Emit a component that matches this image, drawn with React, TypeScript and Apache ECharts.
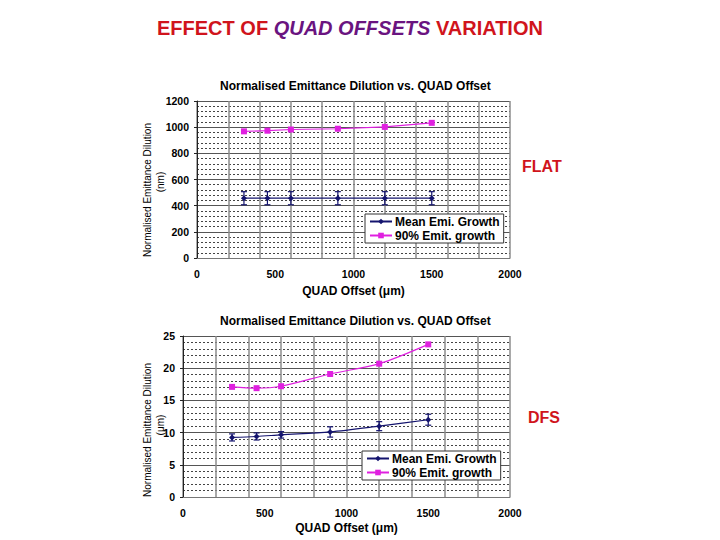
import React, { useEffect, useRef } from "react";
import * as echarts from "echarts";

const offsets = [300, 450, 600, 900, 1200, 1500];
const flatMean = [457, 457, 457, 457, 457, 457];
const flatMeanErr = [50, 50, 50, 50, 50, 50];
const flat90 = [968, 973, 982, 988, 1002, 1033];
const dfsMean = [9.25, 9.4, 9.65, 10.1, 11.0, 12.0];
const dfsMeanErr = [0.55, 0.55, 0.5, 0.8, 0.7, 0.85];
const dfs90 = [17.1, 16.9, 17.2, 19.1, 20.7, 23.7];

const xTicksMax = 2000;
const chartTitle = "Normalised Emittance Dilution vs. QUAD Offset";
const seriesNames = ["Mean Emi. Growth", "90% Emit. growth"];

const FONT = "Liberation Sans, Arial, sans-serif";
const NAVY = "#14146e";
const MAGENTA = "#e020e0";

const pairs = (ys: number[]) => offsets.map((x, i) => [x, ys[i]]);
const errPairs = (ys: number[], es: number[]) =>
  offsets.map((x, i) => [x, ys[i] - es[i], ys[i] + es[i]]);

const errRender = (params: any, api: any) => {
  const x = api.value(0);
  const p1 = api.coord([x, api.value(1)]);
  const p2 = api.coord([x, api.value(2)]);
  const st = { stroke: NAVY, lineWidth: 1.2 };
  return {
    type: "group",
    children: [
      { type: "line", shape: { x1: p1[0], y1: p1[1], x2: p2[0], y2: p2[1] }, style: st },
      { type: "line", shape: { x1: p1[0] - 3, y1: p1[1], x2: p1[0] + 3, y2: p1[1] }, style: st },
      { type: "line", shape: { x1: p2[0] - 3, y1: p2[1], x2: p2[0] + 3, y2: p2[1] }, style: st },
    ],
  };
};

export default function App() {
  const ref = useRef<HTMLDivElement>(null);
  useEffect(() => {
    if (!ref.current) return;
    const chart = echarts.init(ref.current, null, { renderer: "svg" });
    const tickLabel = {
      color: "#000",
      fontFamily: FONT,
      fontWeight: "bold" as const,
      fontSize: 10.5,
      formatter: (v: number) => String(v),
    };
    const mainX = (gi: number, gap: number) => ({
      type: "value",
      gridIndex: gi,
      min: 0,
      max: xTicksMax,
      interval: 500,
      name: "QUAD Offset (\u03bcm)",
      nameLocation: "middle",
      nameGap: gap,
      nameTextStyle: { color: "#000", fontFamily: FONT, fontWeight: "bold", fontSize: 12 },
      axisLine: { show: true, lineStyle: { color: "#777", width: 1 } },
      axisTick: { show: false },
      axisLabel: { ...tickLabel, margin: 10 },
      splitLine: { show: false },
    });
    const gridX = (gi: number) => ({
      type: "value",
      gridIndex: gi,
      min: 0,
      max: xTicksMax,
      interval: 200,
      position: "top",
      axisLine: { show: false },
      axisTick: { show: false },
      axisLabel: { show: false },
      splitLine: { show: true, lineStyle: { color: "#8c8c8c", width: 1.5 } },
    });
    const yAx = (gi: number, max: number, interval: number) => ({
      type: "value",
      gridIndex: gi,
      min: 0,
      max,
      interval,
      axisLine: { show: true, lineStyle: { color: "#222", width: 1 } },
      axisTick: { show: true, length: 3, lineStyle: { color: "#222" } },
      axisLabel: { ...tickLabel, margin: 8 },
      splitLine: { show: true, lineStyle: { color: "#555", width: 1 } },
      minorTick: { show: false, splitNumber: 5 },
      minorSplitLine: { show: true, lineStyle: { color: "#444", width: 1, type: [2, 2] } },
    });
    const legend = (left: number, top: number) => ({
      left,
      top,
      orient: "vertical",
      data: seriesNames,
      backgroundColor: "#fff",
      borderColor: "#333",
      borderWidth: 1,
      padding: [1, 4, 1, 4],
      itemGap: 1,
      itemWidth: 22,
      itemHeight: 7,
      textStyle: {
        color: "#000",
        fontFamily: FONT,
        fontWeight: "bold",
        fontSize: 12,
        lineHeight: 13,
        padding: [0, 0, 0, -2],
      },
    });
    const axisTitle = (x: number, y: number, text: string, size = 10) => ({
      type: "text",
      x,
      y,
      rotation: Math.PI / 2,
      style: {
        text,
        fill: "#000",
        font: `${size}px ${FONT}`,
        align: "center",
        verticalAlign: "middle",
      },
    });
    const subTitle = (top: number) => ({
      text: chartTitle,
      left: 220,
      top,
      padding: 0,
      textStyle: { color: "#000", fontFamily: FONT, fontWeight: "bold", fontSize: 12 },
    });
    chart.setOption({
      animation: false,
      backgroundColor: "#fff",
      title: [
        {
          text: "{r|EFFECT OF }{p|QUAD OFFSETS}{r| VARIATION}",
          left: 157,
          top: 18,
          padding: 0,
          textStyle: {
            rich: {
              r: { color: "#d0141c", fontFamily: FONT, fontWeight: "bold", fontSize: 20 },
              p: { color: "#6a1480", fontFamily: FONT, fontWeight: "bold", fontStyle: "italic", fontSize: 20 },
            },
          },
        },
        subTitle(80),
        subTitle(315),
      ],
      grid: [
        { left: 197, top: 101, width: 313, height: 157 },
        { left: 183, top: 336, width: 327, height: 161 },
      ],
      xAxis: [mainX(0, 27), gridX(0), mainX(1, 25), gridX(1)],
      yAxis: [yAx(0, 1200, 200), yAx(1, 25, 5)],
      legend: [legend(365, 214), legend(362, 451)],
      graphic: [
        axisTitle(147, 190, "Normalised Emittance Dilution"),
        axisTitle(160, 182, "(nm)"),
        axisTitle(147, 430, "Normalised Emittance Dilution"),
        axisTitle(160, 425, "(\u03bcm)"),
        {
          type: "text",
          x: 522,
          y: 166,
          style: { text: "FLAT", fill: "#d0141c", font: `bold 16px ${FONT}`, verticalAlign: "middle" },
        },
        {
          type: "text",
          x: 528,
          y: 417,
          style: { text: "DFS", fill: "#d0141c", font: `bold 16px ${FONT}`, verticalAlign: "middle" },
        },
      ],
      series: [
        {
          name: seriesNames[0],
          type: "line",
          xAxisIndex: 0,
          yAxisIndex: 0,
          data: pairs(flatMean),
          symbol: "diamond",
          symbolSize: 6,
          itemStyle: { color: NAVY },
          lineStyle: { color: NAVY, width: 1.2 },
          z: 4,
        },
        {
          type: "custom",
          xAxisIndex: 0,
          yAxisIndex: 0,
          data: errPairs(flatMean, flatMeanErr),
          renderItem: errRender,
          z: 3,
        },
        {
          name: seriesNames[1],
          type: "line",
          xAxisIndex: 0,
          yAxisIndex: 0,
          data: pairs(flat90),
          symbol: "rect",
          symbolSize: 6,
          itemStyle: { color: MAGENTA },
          lineStyle: { color: MAGENTA, width: 1.2 },
          z: 4,
        },
        {
          name: seriesNames[0],
          type: "line",
          xAxisIndex: 2,
          yAxisIndex: 1,
          data: pairs(dfsMean),
          smooth: 0.3,
          symbol: "diamond",
          symbolSize: 6,
          itemStyle: { color: NAVY },
          lineStyle: { color: NAVY, width: 1.2 },
          z: 4,
        },
        {
          type: "custom",
          xAxisIndex: 2,
          yAxisIndex: 1,
          data: errPairs(dfsMean, dfsMeanErr),
          renderItem: errRender,
          z: 3,
        },
        {
          name: seriesNames[1],
          type: "line",
          xAxisIndex: 2,
          yAxisIndex: 1,
          data: pairs(dfs90),
          smooth: 0.3,
          symbol: "rect",
          symbolSize: 6,
          itemStyle: { color: MAGENTA },
          lineStyle: { color: MAGENTA, width: 1.2 },
          z: 4,
        },
      ],
    });
    return () => chart.dispose();
  }, []);
  return (
    <div
      ref={ref}
      style={{ position: "fixed", left: 0, top: 0, width: 720, height: 540, background: "#fff" }}
    />
  );
}
